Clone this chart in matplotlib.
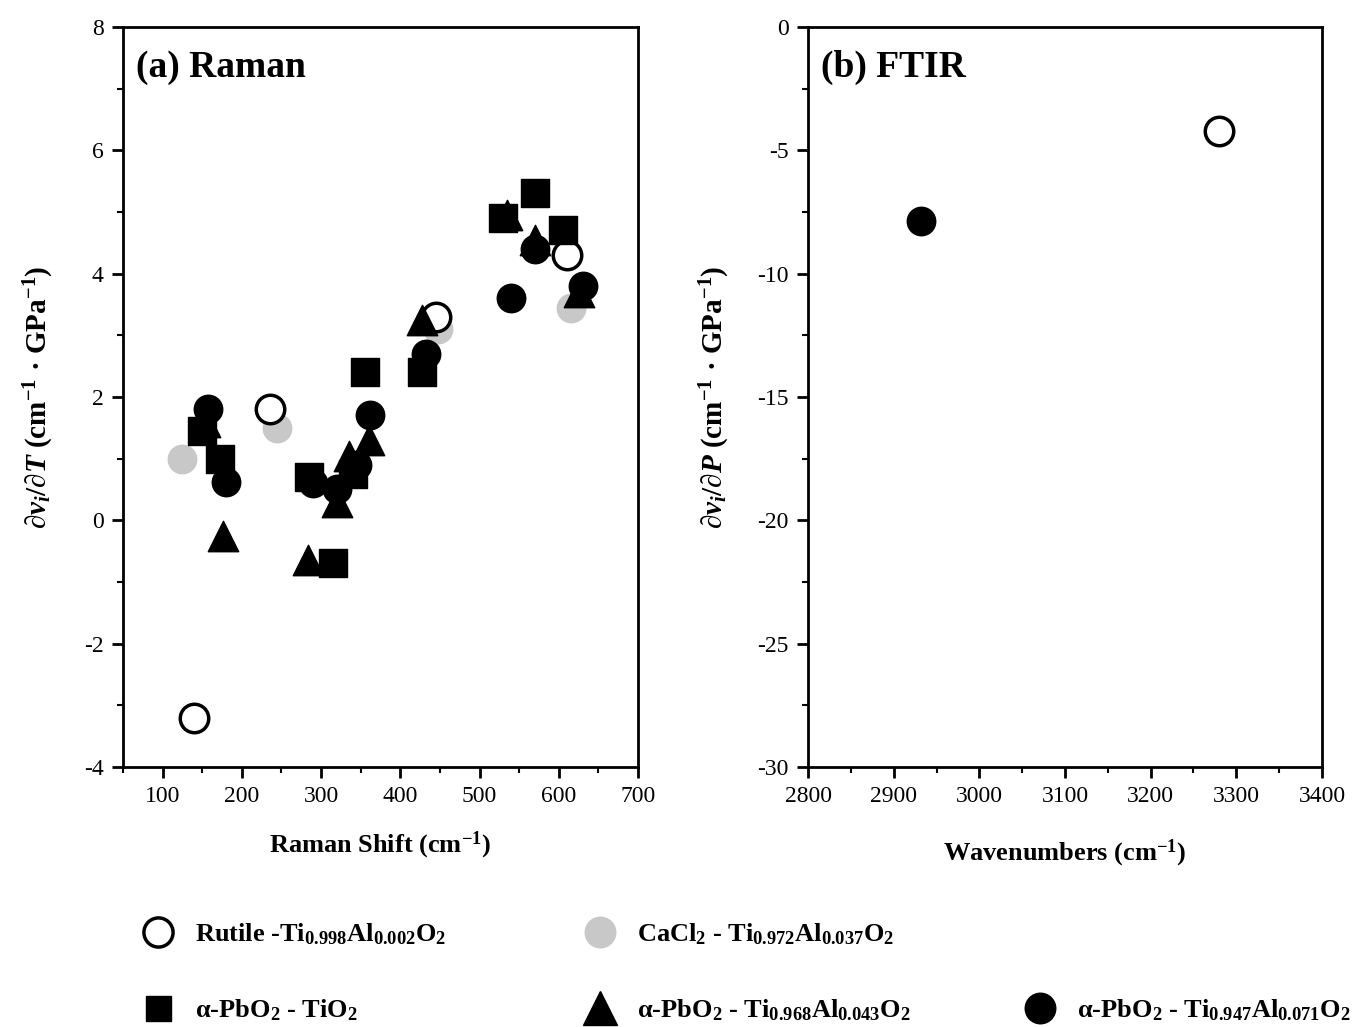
import matplotlib
matplotlib.use('Agg')
import matplotlib.pyplot as plt
from matplotlib.lines import Line2D
from matplotlib.ticker import MultipleLocator

plt.rcParams['font.family'] = ['Liberation Serif', 'DejaVu Serif']
plt.rcParams['mathtext.fontset'] = 'custom'
plt.rcParams['mathtext.rm'] = 'Liberation Serif:bold'
plt.rcParams['mathtext.it'] = 'Liberation Serif:italic:bold'
plt.rcParams['mathtext.bf'] = 'Liberation Serif:bold'
plt.rcParams['mathtext.default'] = 'regular'
plt.rcParams['axes.unicode_minus'] = False

# Raman pressure derivatives, (shift cm-1, dv/dP)
rutile_x = [140, 235, 445, 610]
rutile_y = [-3.2, 1.8, 3.3, 4.3]
cacl2_x = [124, 245, 447, 615]
cacl2_y = [1.0, 1.5, 3.1, 3.45]
tio2_x = [150, 172, 285, 340, 315, 355, 427, 530, 570, 605]
tio2_y = [1.45, 1.0, 0.7, 0.75, -0.7, 2.4, 2.4, 4.9, 5.3, 4.7]
al043_x = [153, 176, 283, 320, 335, 360, 428, 535, 570, 625]
al043_y = [1.6, -0.25, -0.65, 0.3, 1.05, 1.3, 3.25, 4.95, 4.55, 3.7]
al071_x = [157, 180, 290, 320, 345, 362, 433, 540, 570, 630]
al071_y = [1.8, 0.62, 0.6, 0.5, 0.9, 1.7, 2.7, 3.6, 4.4, 3.8]

# FTIR OH band
ftir_rutile_x = [3280]
ftir_rutile_y = [-4.2]
ftir_al071_x = [2932]
ftir_al071_y = [-7.85]

labels = [
    r'Rutile -Ti$_{0.998}$Al$_{0.002}$O$_2$',
    r'CaCl$_2$ - Ti$_{0.972}$Al$_{0.037}$O$_2$',
    r'α-PbO$_2$ - TiO$_2$',
    r'α-PbO$_2$ - Ti$_{0.968}$Al$_{0.043}$O$_2$',
    r'α-PbO$_2$ - Ti$_{0.947}$Al$_{0.071}$O$_2$',
]

open_kw = dict(marker='o', s=420, facecolor='white', edgecolor='black', linewidths=2.5, zorder=3)
gray_kw = dict(marker='o', s=420, color='#c8c8c8', zorder=2)
sq_kw = dict(marker='s', s=380, color='black', zorder=3)
tri_kw = dict(marker='^', s=480, color='black', zorder=3)
dot_kw = dict(marker='o', s=420, color='black', zorder=4)

fig = plt.figure(figsize=(13.56, 10.27), dpi=100)
ax1 = fig.add_axes([0.0907, 0.2532, 0.3798, 0.7205])
ax2 = fig.add_axes([0.5959, 0.2532, 0.3790, 0.7205])

ax1.scatter(cacl2_x, cacl2_y, **gray_kw)
ax1.scatter(rutile_x, rutile_y, **open_kw)
ax1.scatter(tio2_x, tio2_y, **sq_kw)
ax1.scatter(al043_x, al043_y, **tri_kw)
ax1.scatter(al071_x, al071_y, **dot_kw)

ax2.scatter(ftir_rutile_x, ftir_rutile_y, **open_kw)
ax2.scatter(ftir_al071_x, ftir_al071_y, **dot_kw)

ax1.set_xlim(50, 700)
ax1.set_ylim(-4, 8)
ax1.xaxis.set_major_locator(MultipleLocator(100))
ax1.xaxis.set_minor_locator(MultipleLocator(50))
ax1.yaxis.set_major_locator(MultipleLocator(2))
ax1.yaxis.set_minor_locator(MultipleLocator(1))

ax2.set_xlim(2800, 3400)
ax2.set_ylim(-30, 0)
ax2.xaxis.set_major_locator(MultipleLocator(100))
ax2.xaxis.set_minor_locator(MultipleLocator(50))
ax2.yaxis.set_major_locator(MultipleLocator(5))
ax2.yaxis.set_minor_locator(MultipleLocator(2.5))

for ax in (ax1, ax2):
    for sp in ax.spines.values():
        sp.set_linewidth(2)
    ax.tick_params(which='major', direction='out', length=8, width=2, labelsize=17, pad=6)
    ax.tick_params(which='minor', direction='out', length=4, width=1.5)

ax1.set_xlabel('Raman Shift (cm$^{-1}$)', fontsize=19, fontweight='bold', labelpad=16)
ax2.set_xlabel('Wavenumbers (cm$^{-1}$)', fontsize=19, fontweight='bold', labelpad=22)
ax1.set_ylabel(r'$\partial\mathit{v_i}/\partial\mathit{T}$ (cm$^{-1}$ · GPa$^{-1}$)',
               fontsize=21, fontweight='bold', labelpad=20)
ax2.set_ylabel(r'$\partial\mathit{v_i}/\partial\mathit{P}$ (cm$^{-1}$ · GPa$^{-1}$)',
               fontsize=21, fontweight='bold', labelpad=18)

ax1.text(0.025, 0.945, '(a) Raman', transform=ax1.transAxes, fontsize=27,
         fontweight='bold', va='center')
ax2.text(0.025, 0.945, '(b) FTIR', transform=ax2.transAxes, fontsize=27,
         fontweight='bold', va='center')

h_open = Line2D([], [], ls='none', marker='o', ms=21, mfc='white', mec='black', mew=2.5)
h_gray = Line2D([], [], ls='none', marker='o', ms=22, color='#c8c8c8')
h_sq = Line2D([], [], ls='none', marker='s', ms=18, color='black')
h_tri = Line2D([], [], ls='none', marker='^', ms=24, color='black')
h_dot = Line2D([], [], ls='none', marker='o', ms=22, color='black')

leg_kw = dict(frameon=False, prop={'weight': 'bold', 'size': 19}, handlelength=1.2,
              handletextpad=0.8, loc='center left', borderaxespad=0, borderpad=0)

# legend laid out as two rows below the panels
row1, row2 = 0.0906, 0.0166
col1, col2, col3 = 0.1047, 0.4307, 0.7552
fig.legend([h_open], [labels[0]], bbox_to_anchor=(col1, row1), **leg_kw)
fig.legend([h_gray], [labels[1]], bbox_to_anchor=(col2, row1), **leg_kw)
fig.legend([h_sq], [labels[2]], bbox_to_anchor=(col1, row2), **leg_kw)
fig.legend([h_tri], [labels[3]], bbox_to_anchor=(col2, row2), **leg_kw)
fig.legend([h_dot], [labels[4]], bbox_to_anchor=(col3, row2), **leg_kw)

fig.savefig('out.png', dpi=100, facecolor='white')
